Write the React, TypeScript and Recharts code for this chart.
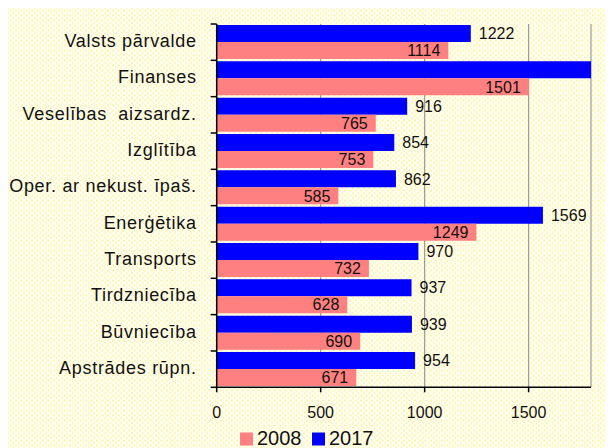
import React from 'react';
import { BarChart, Bar, XAxis, YAxis, CartesianGrid, LabelList } from 'recharts';

const categories = [
  'Valsts pārvalde',
  'Finanses',
  'Veselības  aizsardz.',
  'Izglītība',
  'Oper. ar nekust. īpaš.',
  'Enerģētika',
  'Transports',
  'Tirdzniecība',
  'Būvniecība',
  'Apstrādes rūpn.',
];
const values2017 = [1222, 1820, 916, 854, 862, 1569, 970, 937, 939, 954];
const values2008 = [1114, 1501, 765, 753, 585, 1249, 732, 628, 690, 671];
const seriesNames = ['2008', '2017'];
const seriesColors = ['#ff8080', '#0000ff'];
const xTicks = [0, 500, 1000, 1500];
const X_MAX = 1800;

const data = categories.map((name, i) => ({
  name,
  y2017: values2017[i],
  y2008: values2008[i],
}));

const WIDTH = 606;
const HEIGHT = 440;
const MARGIN = { top: 16, right: 23, left: 0, bottom: 0 };
const Y_AXIS_W = 208.7;
const X_AXIS_H = 60.7;
const PLOT_H = HEIGHT - MARGIN.top - MARGIN.bottom - X_AXIS_H;
const BAND = PLOT_H / categories.length;
const FONT = '"Liberation Sans", Arial, sans-serif';

const CategoryTick = (props: any) => {
  const { x, y, payload } = props;
  const isLast = payload.value === categories[categories.length - 1];
  return (
    <g>
      <text
        x={x - 20}
        y={y + 5}
        textAnchor="end"
        fontFamily={FONT}
        fontSize={18}
        letterSpacing={0.7}
        fill="#111"
        style={{ whiteSpace: 'pre' }}
      >
        {payload.value}
      </text>
      <line x1={x - 6} x2={x} y1={y - BAND / 2} y2={y - BAND / 2} stroke="#000" strokeWidth={1.5} />
      {isLast && (
        <line x1={x - 6} x2={x} y1={y + BAND / 2} y2={y + BAND / 2} stroke="#000" strokeWidth={1.5} />
      )}
    </g>
  );
};

const hideOverflow = (v: any) => (Number(v) > X_MAX ? '' : v);

const LegendG = () => (
  <g>
    {seriesNames.map((name, i) => (
      <g key={name}>
        <rect x={232 + i * 72} y={424.5} width={13} height={13} fill={seriesColors[i]} />
        <text x={249 + i * 72} y={437} fontFamily={FONT} fontSize={20} fill="#111">
          {name}
        </text>
      </g>
    ))}
  </g>
);

export default function App() {
  return (
    <div
      style={{
        width: WIDTH,
        height: HEIGHT,
        backgroundColor: '#ffffff',
        backgroundImage:
          'radial-gradient(circle, #fff59c 0.7px, rgba(255,255,255,0) 1.6px), radial-gradient(circle, #fff59c 0.7px, rgba(255,255,255,0) 1.6px)',
        backgroundSize: '5.4px 5px',
        backgroundPosition: '0 0, 2.7px 2.5px',
      }}
    >
      <BarChart
        width={WIDTH}
        height={HEIGHT}
        data={data}
        layout="vertical"
        margin={MARGIN}
        barGap={0}
        barSize={17}
      >
        <CartesianGrid horizontal={false} vertical stroke="#9a9a9a" strokeWidth={1.2} />
        <XAxis
          type="number"
          domain={[0, X_MAX]}
          ticks={xTicks}
          allowDataOverflow
          height={X_AXIS_H}
          axisLine={{ stroke: '#000', strokeWidth: 1.5 }}
          tickLine={{ stroke: '#000', strokeWidth: 1.5 }}
          tickSize={5}
          tickMargin={14}
          tick={{ fontFamily: FONT, fontSize: 16, fill: '#111' }}
        />
        <YAxis
          type="category"
          dataKey="name"
          width={Y_AXIS_W}
          axisLine={{ stroke: '#000', strokeWidth: 1.5 }}
          tickLine={false}
          tickSize={0}
          tickMargin={0}
          interval={0}
          tick={<CategoryTick />}
        />
        <Bar dataKey="y2017" name={seriesNames[1]} fill={seriesColors[1]} isAnimationActive={false}>
          <LabelList
            dataKey="y2017"
            position="right"
            offset={8}
            formatter={hideOverflow}
            style={{ fontFamily: FONT, fontSize: 16, fill: '#111' }}
          />
        </Bar>
        <Bar dataKey="y2008" name={seriesNames[0]} fill={seriesColors[0]} isAnimationActive={false}>
          <LabelList
            dataKey="y2008"
            position="insideRight"
            offset={8}
            style={{ fontFamily: FONT, fontSize: 16, fill: '#111' }}
          />
        </Bar>
        <LegendG />
      </BarChart>
    </div>
  );
}
